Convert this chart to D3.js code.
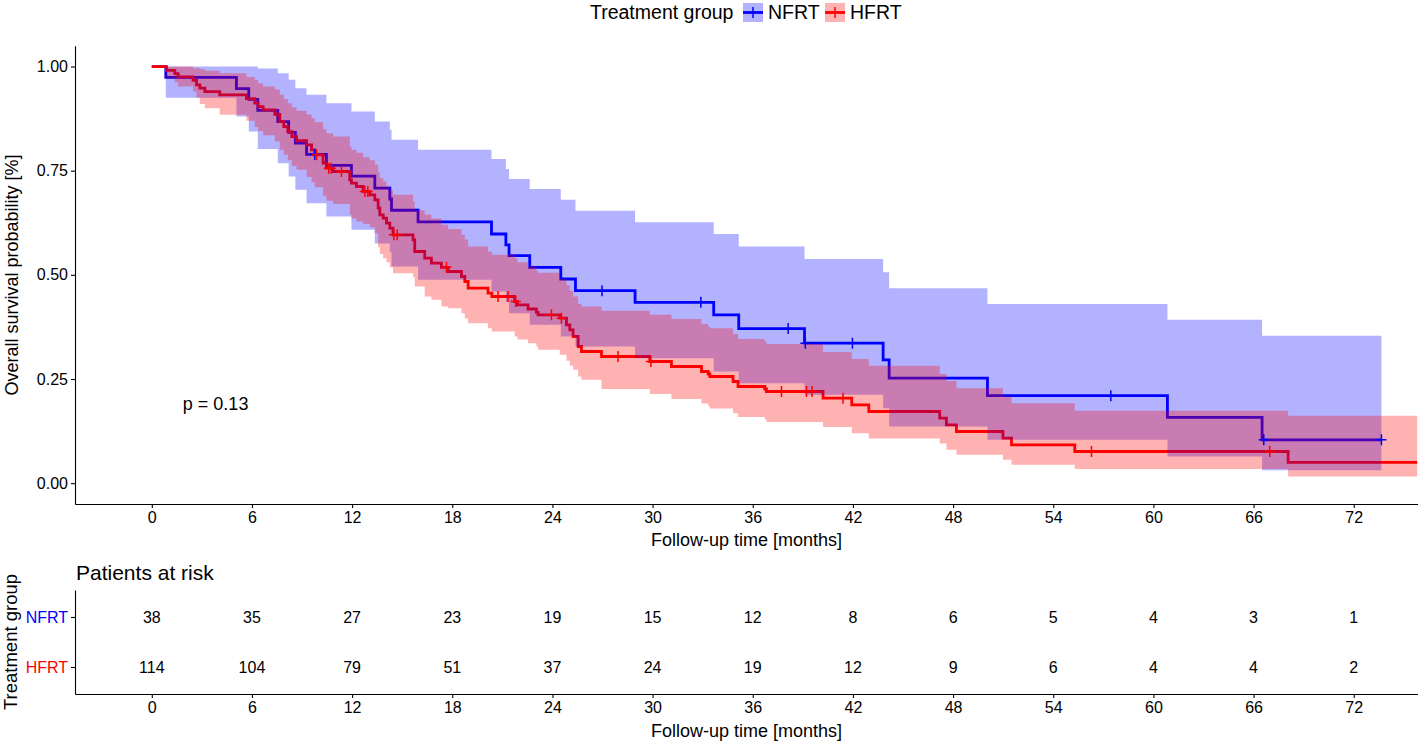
<!DOCTYPE html>
<html><head><meta charset="utf-8">
<script src="https://cdn.jsdelivr.net/npm/d3@7"></script>
<style>
body{margin:0;background:#fff}
svg{display:block}
text{font-family:"Liberation Sans",Arial,Helvetica,sans-serif}
</style>
</head><body>
<svg id="chart" width="1418" height="742"></svg>
<script>
// ---------------- DATA ----------------
const groups = ["NFRT", "HFRT"];

// NFRT (Kaplan-Meier steps, months)
const nfrtTime  = [0, 0.84, 5.07, 5.81, 6.35, 7.55, 8.2, 8.6, 9.27, 10.46, 11.96, 13.36, 14.26, 14.36, 15.95, 20.35, 21.21, 21.40, 22.64, 24.50, 25.38, 28.95, 33.66, 35.16, 39.10, 43.81, 44.17, 50.06, 60.84, 66.51];
const nfrtSurv  = [1, 0.974, 0.947, 0.921, 0.895, 0.868, 0.842, 0.816, 0.789, 0.763, 0.737, 0.708, 0.682, 0.655, 0.627, 0.598, 0.572, 0.546, 0.518, 0.490, 0.462, 0.434, 0.404, 0.371, 0.336, 0.296, 0.252, 0.210, 0.158, 0.104];
const nfrtUpper = [1, 1, 1, 1, 0.995, 0.984, 0.968, 0.948, 0.932, 0.912, 0.892, 0.868, 0.848, 0.824, 0.800, 0.778, 0.754, 0.730, 0.706, 0.680, 0.654, 0.626, 0.598, 0.568, 0.538, 0.506, 0.468, 0.430, 0.392, 0.354];
const nfrtLower = [1, 0.925, 0.880, 0.844, 0.802, 0.768, 0.736, 0.704, 0.672, 0.640, 0.608, 0.575, 0.555, 0.520, 0.488, 0.460, 0.435, 0.408, 0.380, 0.352, 0.328, 0.300, 0.268, 0.240, 0.212, 0.180, 0.136, 0.104, 0.064, 0.031];
const nfrtEnd = 73.66;
const nfrtCensor = [9.76, 26.97, 32.89, 38.12, 39.15, 41.97, 57.45, 66.61, 73.66];

// HFRT
const hfrtTime  = [0, 0.88, 1.38, 1.58, 2.47, 2.68, 2.88, 3.18, 4.07, 5.67, 6.17, 6.37, 6.67, 7.37, 7.67, 7.91, 8.15, 8.39, 8.67, 9.27, 9.57, 9.76, 10.26, 10.46, 10.86, 11.86, 11.96, 12.26, 12.66, 13.06, 13.36, 13.56, 13.66, 13.86, 14.06, 14.26, 14.45, 15.65, 15.75, 16.35, 16.75, 17.35, 17.75, 18.55, 18.75, 18.95, 20.14, 20.37, 21.74, 21.90, 22.54, 23.04, 23.14, 24.44, 24.84, 25.04, 25.24, 25.54, 25.74, 26.94, 29.83, 31.13, 32.93, 33.33, 33.43, 34.82, 35.12, 36.72, 36.82, 40.21, 41.93, 42.95, 47.20, 47.60, 48.20, 50.99, 51.50, 55.29, 68.07];
const hfrtSurv  = [1, 0.991, 0.983, 0.975, 0.967, 0.956, 0.948, 0.940, 0.932, 0.923, 0.912, 0.904, 0.896, 0.885, 0.868, 0.856, 0.844, 0.832, 0.822, 0.812, 0.800, 0.788, 0.768, 0.756, 0.748, 0.728, 0.720, 0.712, 0.700, 0.692, 0.680, 0.660, 0.644, 0.636, 0.624, 0.612, 0.596, 0.584, 0.556, 0.540, 0.528, 0.518, 0.508, 0.496, 0.484, 0.468, 0.456, 0.448, 0.436, 0.428, 0.418, 0.410, 0.404, 0.396, 0.380, 0.368, 0.352, 0.328, 0.316, 0.304, 0.292, 0.280, 0.268, 0.262, 0.256, 0.244, 0.232, 0.226, 0.220, 0.204, 0.188, 0.172, 0.156, 0.140, 0.124, 0.108, 0.092, 0.076, 0.050];
const hfrtUpper = [1, 1, 1, 1, 0.996, 0.996, 0.994, 0.990, 0.984, 0.975, 0.968, 0.960, 0.952, 0.945, 0.932, 0.922, 0.912, 0.902, 0.894, 0.885, 0.876, 0.866, 0.850, 0.840, 0.832, 0.808, 0.800, 0.793, 0.782, 0.775, 0.765, 0.747, 0.732, 0.724, 0.714, 0.703, 0.692, 0.676, 0.655, 0.645, 0.635, 0.620, 0.610, 0.596, 0.585, 0.568, 0.556, 0.548, 0.540, 0.530, 0.520, 0.510, 0.505, 0.490, 0.475, 0.462, 0.448, 0.430, 0.424, 0.414, 0.404, 0.394, 0.382, 0.376, 0.372, 0.358, 0.346, 0.340, 0.334, 0.315, 0.298, 0.282, 0.262, 0.245, 0.228, 0.208, 0.192, 0.174, 0.162];
const hfrtLower = [1, 0.972, 0.962, 0.952, 0.940, 0.925, 0.910, 0.900, 0.884, 0.870, 0.855, 0.845, 0.835, 0.820, 0.800, 0.788, 0.775, 0.762, 0.752, 0.735, 0.722, 0.710, 0.690, 0.678, 0.670, 0.645, 0.635, 0.628, 0.622, 0.614, 0.600, 0.566, 0.550, 0.540, 0.530, 0.518, 0.504, 0.495, 0.472, 0.448, 0.440, 0.424, 0.420, 0.408, 0.395, 0.384, 0.372, 0.364, 0.352, 0.345, 0.336, 0.328, 0.320, 0.308, 0.294, 0.282, 0.272, 0.256, 0.248, 0.226, 0.214, 0.202, 0.191, 0.185, 0.179, 0.168, 0.159, 0.153, 0.147, 0.135, 0.120, 0.107, 0.095, 0.080, 0.068, 0.056, 0.044, 0.034, 0.016];
const hfrtEnd = 75.8;
const hfrtCensor = [9.87, 10.6, 10.75, 11.36, 12.76, 12.94, 14.5, 14.7, 17.65, 20.74, 21.34, 21.8, 23.94, 24.54, 27.93, 29.9, 37.72, 39.22, 39.55, 41.41, 56.29, 66.97];

// Risk table
const riskTimes = [0, 6, 12, 18, 24, 30, 36, 42, 48, 54, 60, 66, 72];
const nfrtRisk = [38, 35, 27, 23, 19, 15, 12, 8, 6, 5, 4, 3, 1];
const hfrtRisk = [114, 104, 79, 51, 37, 24, 19, 12, 9, 6, 4, 4, 2];

const xTicks = [0, 6, 12, 18, 24, 30, 36, 42, 48, 54, 60, 66, 72];
const yTicks = [0, 0.25, 0.5, 0.75, 1];
const pText = "p = 0.13";

// ---------------- DRAW ----------------
const colors = {NFRT: "#0000FF", HFRT: "#FF0000"};
const svg = d3.select("#chart");
const x = d3.scaleLinear().domain([-4.6, 75.85]).range([75, 1418]);
const y = d3.scaleLinear().domain([-0.05, 1.05]).range([504, 45.7]);

const series = [
  {name: "NFRT", t: nfrtTime, s: nfrtSurv, u: nfrtUpper, l: nfrtLower, end: nfrtEnd, c: nfrtCensor},
  {name: "HFRT", t: hfrtTime, s: hfrtSurv, u: hfrtUpper, l: hfrtLower, end: hfrtEnd, c: hfrtCensor}
];
series.forEach(g => {
  g.pts = g.t.map((t, i) => ({t, s: g.s[i], u: g.u[i], l: g.l[i]}));
  const last = g.pts[g.pts.length - 1];
  g.pts.push({t: g.end, s: last.s, u: last.u, l: last.l});
});

const line = d3.line().curve(d3.curveStepAfter).x(d => x(d.t)).y(d => y(d.s));
const area = d3.area().curve(d3.curveStepAfter).x(d => x(d.t)).y0(d => y(d.l)).y1(d => y(d.u));

const plot = svg.append("g");
series.forEach(g => {
  plot.append("path").attr("d", line(g.pts)).attr("fill", "none")
    .attr("stroke", colors[g.name]).attr("stroke-width", 2.8);
});
series.forEach(g => {
  plot.append("path").attr("d", area(g.pts)).attr("fill", colors[g.name]).attr("fill-opacity", 0.3);
});
series.forEach(g => {
  g.c.forEach(ct => {
    const i = d3.bisectRight(g.t, ct) - 1;
    const cx = x(ct), cy = y(g.s[i]);
    plot.append("path").attr("d", `M${cx - 5},${cy}H${cx + 5}M${cx},${cy - 5.5}V${cy + 5.5}`)
      .attr("stroke", colors[g.name]).attr("stroke-width", 1.5).attr("fill", "none");
  });
});

const fs = 16;
const yAxis = svg.append("g").attr("transform", "translate(75,0)")
  .call(d3.axisLeft(y).tickValues(yTicks).tickFormat(d3.format(".2f")).tickSize(4).tickSizeOuter(0).tickPadding(3));
const xAxis = svg.append("g").attr("transform", "translate(0,504)")
  .call(d3.axisBottom(x).tickValues(xTicks).tickSize(4).tickSizeOuter(0).tickPadding(4));
[yAxis, xAxis].forEach(a => {
  a.selectAll("text").attr("font-size", fs).attr("fill", "#000").attr("font-family", "Liberation Sans, Arial, sans-serif");
  a.selectAll("line,path").attr("stroke", "#000").attr("stroke-width", 1.1);
});

svg.append("text").attr("x", 746.5).attr("y", 546).attr("text-anchor", "middle").attr("font-size", 18)
  .text("Follow-up time [months]");
svg.append("text").attr("transform", "translate(18,275) rotate(-90)").attr("text-anchor", "middle").attr("font-size", 18)
  .text("Overall survival probability [%]");

svg.append("text").attr("x", x(1.86)).attr("y", y(0.19)).attr("dy", "0.35em").attr("font-size", 18).text(pText);

const leg = svg.append("g");
leg.append("text").attr("x", 590).attr("y", 19).attr("font-size", 19.5).text("Treatment group");
const legPos = {NFRT: 743, HFRT: 825};
groups.forEach(gname => {
  const lx = legPos[gname];
  leg.append("rect").attr("x", lx).attr("y", 3).attr("width", 20).attr("height", 19)
    .attr("fill", colors[gname]).attr("fill-opacity", 0.3);
  leg.append("line").attr("x1", lx).attr("x2", lx + 20).attr("y1", 12.5).attr("y2", 12.5)
    .attr("stroke", colors[gname]).attr("stroke-width", 2.8);
  leg.append("line").attr("x1", lx + 10).attr("x2", lx + 10).attr("y1", 7).attr("y2", 18)
    .attr("stroke", colors[gname]).attr("stroke-width", 1.5);
  leg.append("text").attr("x", lx + 25).attr("y", 19).attr("font-size", 19.5).text(gname);
});

svg.append("text").attr("x", 76).attr("y", 580).attr("font-size", 21).text("Patients at risk");
const ry = d3.scalePoint().domain(groups).range([590, 694]).padding(0.54);
const rAxisY = svg.append("g").attr("transform", "translate(75,0)")
  .call(d3.axisLeft(ry).tickSize(4).tickSizeOuter(0).tickPadding(3));
const rAxisX = svg.append("g").attr("transform", "translate(0,694)")
  .call(d3.axisBottom(x).tickValues(xTicks).tickSize(4).tickSizeOuter(0).tickPadding(4));
[rAxisY, rAxisX].forEach(a => {
  a.selectAll("text").attr("font-size", fs).attr("font-family", "Liberation Sans, Arial, sans-serif");
  a.selectAll("line,path").attr("stroke", "#000").attr("stroke-width", 1.1);
});
rAxisX.selectAll("text").attr("fill", "#000");
rAxisY.selectAll("text").attr("fill", d => colors[d]).attr("font-size", 16);

const riskRows = [{name: "NFRT", v: nfrtRisk}, {name: "HFRT", v: hfrtRisk}];
riskRows.forEach(r => {
  svg.append("g").selectAll("text").data(riskTimes).join("text")
    .attr("x", d => x(d)).attr("y", ry(r.name)).attr("dy", "0.35em")
    .attr("text-anchor", "middle").attr("font-size", 16).attr("fill", "#000")
    .text((d, i) => r.v[i]);
});

svg.append("text").attr("x", 746.5).attr("y", 737).attr("text-anchor", "middle").attr("font-size", 18)
  .text("Follow-up time [months]");
svg.append("text").attr("transform", "translate(17,642) rotate(-90)").attr("text-anchor", "middle").attr("font-size", 18.5)
  .text("Treatment group");
</script>
</body></html>
